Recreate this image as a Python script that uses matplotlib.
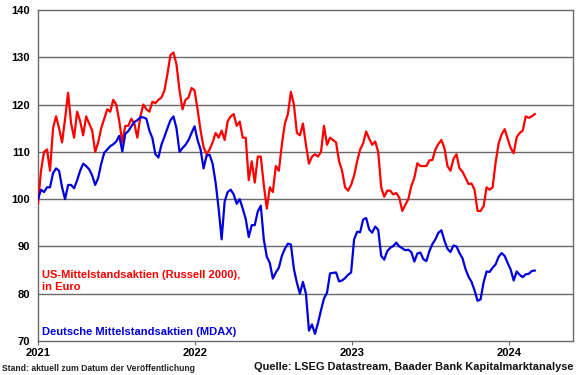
import numpy as np
import pandas as pd
import matplotlib
matplotlib.use("Agg")
from matplotlib import pyplot as plt
import matplotlib.dates as mdates

plt.rcParams['font.family'] = ['Liberation Sans', 'DejaVu Sans']

# weekly values, start 2021-01-01
start_date = "2021-01-01"

russell_eur = [
    99, 106, 110, 110.5, 106, 115, 117.5, 115, 112, 117, 122.5, 116, 113, 118.5, 116.5, 113.5,
    117.5, 116, 114.5, 110, 112, 115, 117, 119, 118.5, 121, 120, 116.5, 112, 115.5, 115.5, 117,
    116, 113, 117.5, 120, 119,
    118.5, 120.6, 120.3, 121, 121.5, 123, 126.5, 130.5, 131, 128.5, 123, 119, 121, 121.5, 123.5,
    123, 119, 114.5, 111, 109.5, 110.5, 112, 114, 113, 114.5, 112.5, 116.5, 117.5, 118, 115.5,
    116.4, 113, 113,
    104, 108, 103.5, 109, 109, 103, 98, 102.5, 101.5, 107, 106, 111.5, 116, 118, 122.7, 120,
    114, 113.5, 116, 111.5, 107.5, 109, 109.5, 109, 110, 115.5, 111.5, 113, 112.5, 112, 108,
    106, 102.5, 101.8, 103, 105,
    108, 110.5, 111.8, 114.3, 112.8, 111.5, 112.2, 110, 102.5, 100.5, 101.8, 101.8, 101, 101.3,
    100.3, 97.5, 98.8, 100, 102.8, 104.5, 107.6, 107, 107, 107, 108.2, 108.3, 110.5, 111.7,
    112.5, 110.8, 107,
    106, 108.5, 109.5, 106.5, 105.8, 104.5, 103.2, 103.3, 102, 97.5, 97.5, 98.5, 102.5, 102,
    102.5, 107.8, 111.8, 113.7, 114.8, 112.8, 110.8, 109.7, 113.1, 114, 114.5, 117.5, 117.2,
    117.5, 118,
]

mdax = [
    100, 102, 101.5, 102.5, 102.5, 105.5, 106.5, 106, 102.5, 100, 103, 103, 102.3, 104, 106,
    107.5, 107, 106.3, 105, 103, 104.5, 107.5, 109.8, 110.5, 111.2, 111.6, 112.2, 113.4, 110.1,
    113.8, 114.4, 115.4, 116.3, 116.7, 117.3, 117.3, 117,
    114.5, 112.9, 109.5, 108.8, 111.5, 113.2, 115, 116.7, 117.5, 115, 110, 110.8, 111.5, 112.5,
    114, 115.4, 112.5, 110.5, 106.5, 109.2, 109.4, 107.5, 103.5, 98, 91.5, 99.5, 101.5, 102,
    101, 99, 100, 98, 95.8,
    92, 94.5, 94.5, 97.4, 98.6, 91.5, 87.8, 86.5, 83.2, 84.5, 85.5, 88, 89.5, 90.6, 90.4, 85.2,
    82.3, 80, 82.5, 80, 72.2, 73.5, 71.5, 73.8, 76.5, 79, 80.2, 84.3, 84.4, 84.5, 82.6, 82.8,
    83.3, 84, 84.5, 91.5,
    93.1, 93, 95.7, 96, 93.6, 92.9, 94.2, 93.5, 88, 87.2, 89, 89.7, 90.1, 90.8, 90, 89.6, 89.2,
    89.3, 88.8, 86.8, 88.5, 88.7, 87.3, 86.9, 89, 90.5, 91.5, 92.9, 93.4, 91.2, 89.5,
    88.8, 90.2, 90, 88.6, 87.5, 85.2, 83.6, 82.5, 80.7, 78.5, 78.8, 82.4, 84.7, 84.6, 85.5,
    86.2, 87.8, 88.6, 88, 86.5, 85.1, 82.8, 84.7, 84, 83.5, 84.1, 84.2, 84.8, 84.9,
]

dates = pd.date_range(start_date, periods=len(mdax), freq="7D")
y_ticks = [70, 80, 90, 100, 110, 120, 130, 140]
years = ["2021", "2022", "2023", "2024"]

fig = plt.figure(figsize=(5.8, 3.75), dpi=100)
ax = fig.add_axes([0.0655, 0.0907, 0.9225, 0.8826])

for v in y_ticks[1:-1]:
    ax.axhline(v, color="#6a6a6a", lw=1.0, zorder=1)

ax.plot(dates, russell_eur, color="#ff0000", lw=1.6, zorder=3)
ax.plot(dates, mdax, color="#0000dd", lw=1.6, zorder=3)

ax.set_ylim(70, 140)
ax.set_xlim(pd.Timestamp("2021-01-01"), pd.Timestamp("2024-05-29"))
ax.set_yticks(y_ticks)
ax.set_yticklabels([str(v) for v in y_ticks], fontsize=8, fontweight="bold")
ax.set_xticks([pd.Timestamp(f"{y}-01-01") for y in years])
ax.set_xticklabels(years, fontsize=8, fontweight="bold")
ax.tick_params(axis="y", length=0, pad=6)
ax.tick_params(axis="x", length=3, color="#6a6a6a", pad=2)
for s in ax.spines.values():
    s.set_color("#6a6a6a")
    s.set_linewidth(1.0)

ax.text(0.008, 0.148, "US-Mittelstandsaktien (Russell 2000),\nin Euro", transform=ax.transAxes,
        color="#ff0000", fontsize=8, fontweight="bold", va="bottom", ha="left", linespacing=1.25)
ax.text(0.008, 0.012, "Deutsche Mittelstandsaktien (MDAX)", transform=ax.transAxes,
        color="#0000dd", fontsize=8, fontweight="bold", va="bottom", ha="left")

fig.text(0.004, 0.005, "Stand: aktuell zum Datum der Veröffentlichung", fontsize=6.2,
         fontweight="bold", color="#222222", ha="left", va="bottom")
fig.text(0.988, 0.008, "Quelle: LSEG Datastream, Baader Bank Kapitalmarktanalyse", fontsize=7.9,
         fontweight="bold", color="#111111", ha="right", va="bottom")

fig.savefig("out.png", dpi=100)
